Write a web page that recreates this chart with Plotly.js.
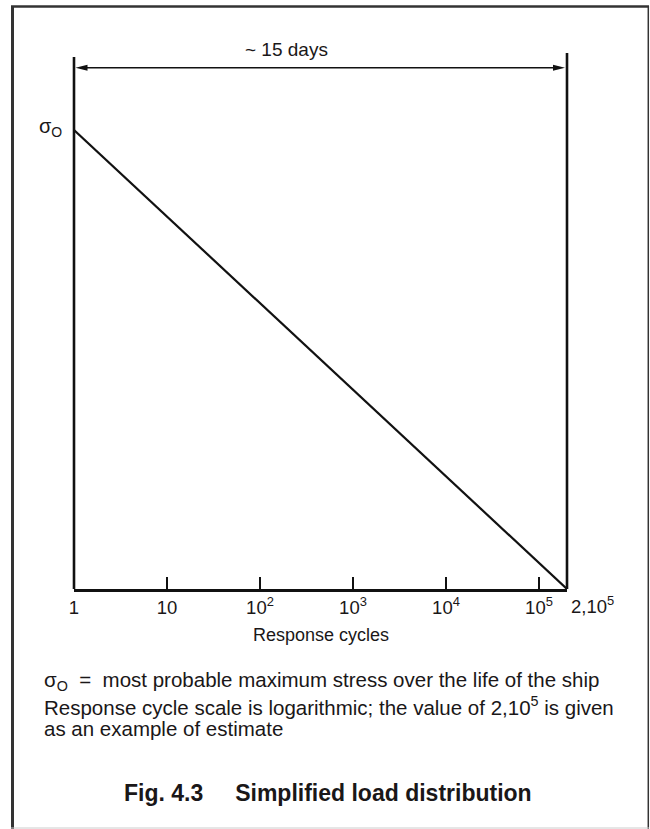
<!DOCTYPE html>
<html>
<head>
<meta charset="utf-8">
<script src="https://cdn.plot.ly/plotly-3.0.1.min.js"></script>
<style>
  html, body { margin: 0; padding: 0; background: #ffffff; }
  #chart { width: 650px; height: 829px; }
</style>
</head>
<body>
<div id="chart"></div>
<script>
// ---- data ----
const cycles = [1, 200000];          // response cycles (log scale)
const stressRatio = [1, 0];          // stress relative to sigma_o
const tickValues = [1, 10, 100, 1000, 10000, 100000];
const tickLabels = ['1', '10', '10<sup>2</sup>', '10<sup>3</sup>', '10<sup>4</sup>', '10<sup>5</sup>'];
const endLabel = '2,10<sup>5</sup>';
const spanLabel = '~ 15 days';
const yLabel = 'σ<sub>O</sub>';
const xTitle = 'Response cycles';
const noteLines = [
  'σ<sub>O</sub>  =  most probable maximum stress over the life of the ship',
  'Response cycle scale is logarithmic; the value of 2,10<sup>5</sup> is given',
  'as an example of estimate'
];
const figTitle = 'Fig. 4.3\u00a0\u00a0\u00a0\u00a0\u00a0Simplified load distribution';

// ---- layout geometry ----
const W = 650, H = 829;
const M = { l: 74, r: 83, t: 53, b: 240 };
const PW = W - M.l - M.r, PH = H - M.t - M.b;
const px = x => (x - M.l) / PW;          // pixel -> paper x
const py = y => (H - M.b - y) / PH;      // pixel -> paper y
const yTop = (H - M.b - M.t) / (H - M.b - 130); // so that y=1 lands at pixel 130

const FONT = '"Liberation Sans", Arial, Helvetica, sans-serif';
const TXT = '#1a1718';
const INK = '#111111';

const trace = {
  x: cycles, y: stressRatio,
  type: 'scatter', mode: 'lines',
  line: { color: INK, width: 2.2 },
  cliponaxis: false, hoverinfo: 'skip', showlegend: false
};

const shapes = [
  // left and right vertical bounds
  { type: 'line', xref: 'paper', yref: 'paper', x0: 0, x1: 0, y0: 0, y1: py(57), line: { color: INK, width: 2.6 } },
  { type: 'line', xref: 'paper', yref: 'paper', x0: 1, x1: 1, y0: 0, y1: py(53), line: { color: INK, width: 2.6 } },
  // dimension arrow line
  { type: 'line', xref: 'paper', yref: 'paper', x0: px(80), x1: px(560), y0: py(67.7), y1: py(67.7), line: { color: INK, width: 1.5 } },
  // arrowheads
  { type: 'path', xref: 'paper', yref: 'paper', xsizemode: 'pixel', ysizemode: 'pixel',
    xanchor: px(75.5), yanchor: py(67.7), path: 'M0,0 L12,3 L12,-3 Z', fillcolor: INK, line: { width: 0 } },
  { type: 'path', xref: 'paper', yref: 'paper', xsizemode: 'pixel', ysizemode: 'pixel',
    xanchor: px(565), yanchor: py(67.7), path: 'M0,0 L-12,3 L-12,-3 Z', fillcolor: INK, line: { width: 0 } },
  // outer frame
  { type: 'line', xref: 'paper', yref: 'paper', x0: px(11), x1: px(649), y0: py(6.5), y1: py(6.5), line: { color: '#333333', width: 2.5 } },
  { type: 'line', xref: 'paper', yref: 'paper', x0: px(12.5), x1: px(12.5), y0: py(6), y1: py(829), line: { color: '#333333', width: 3 } },
  { type: 'line', xref: 'paper', yref: 'paper', x0: px(648.3), x1: px(648.3), y0: py(6), y1: py(829), line: { color: '#333333', width: 1.5 } },
  { type: 'line', xref: 'paper', yref: 'paper', x0: px(11), x1: px(649), y0: py(828), y1: py(828), line: { color: '#cccccc', width: 1 } }
];

const ann = (text, x, y, opts) => Object.assign({
  text, x, y, xref: 'paper', yref: 'paper', showarrow: false,
  xanchor: 'left', yanchor: 'middle',
  font: { family: FONT, size: 20.5, color: TXT }
}, opts || {});

const annotations = [
  ann(spanLabel, px(286.7), py(49.3), { xanchor: 'center', font: { family: FONT, size: 19, color: TXT } }),
  ann(yLabel, px(64), py(127), { xanchor: 'right', font: { family: FONT, size: 20, color: TXT } }),
  ann(endLabel, px(569), py(605), { font: { family: FONT, size: 18.5, color: TXT } }),
  ann(xTitle, 0.5, py(635), { xanchor: 'center', font: { family: FONT, size: 18, color: TXT } }),
  ann(noteLines[0], px(42), py(681)),
  ann(noteLines[1], px(42), py(706)),
  ann(noteLines[2], px(42), py(728)),
  ann('<b>' + figTitle + '</b>', px(327.5), py(793), { xanchor: 'center', font: { family: FONT, size: 23, color: TXT } })
];

const layout = {
  width: W, height: H,
  margin: M,
  paper_bgcolor: '#ffffff', plot_bgcolor: '#ffffff',
  showlegend: false,
  xaxis: {
    type: 'log',
    range: [Math.log10(cycles[0]), Math.log10(cycles[1])],
    showgrid: false, zeroline: false,
    showline: true, linecolor: INK, linewidth: 2.6,
    ticks: 'inside', ticklen: 12, tickwidth: 1.5, tickcolor: INK,
    tickmode: 'array', tickvals: tickValues, ticktext: tickLabels,
    tickfont: { family: FONT, size: 18.5, color: TXT },
    fixedrange: true
  },
  yaxis: {
    range: [0, yTop],
    visible: false, showgrid: false, zeroline: false, fixedrange: true
  },
  shapes, annotations
};

Plotly.newPlot('chart', [trace], layout, { staticPlot: true, displayModeBar: false });
</script>
</body>
</html>
